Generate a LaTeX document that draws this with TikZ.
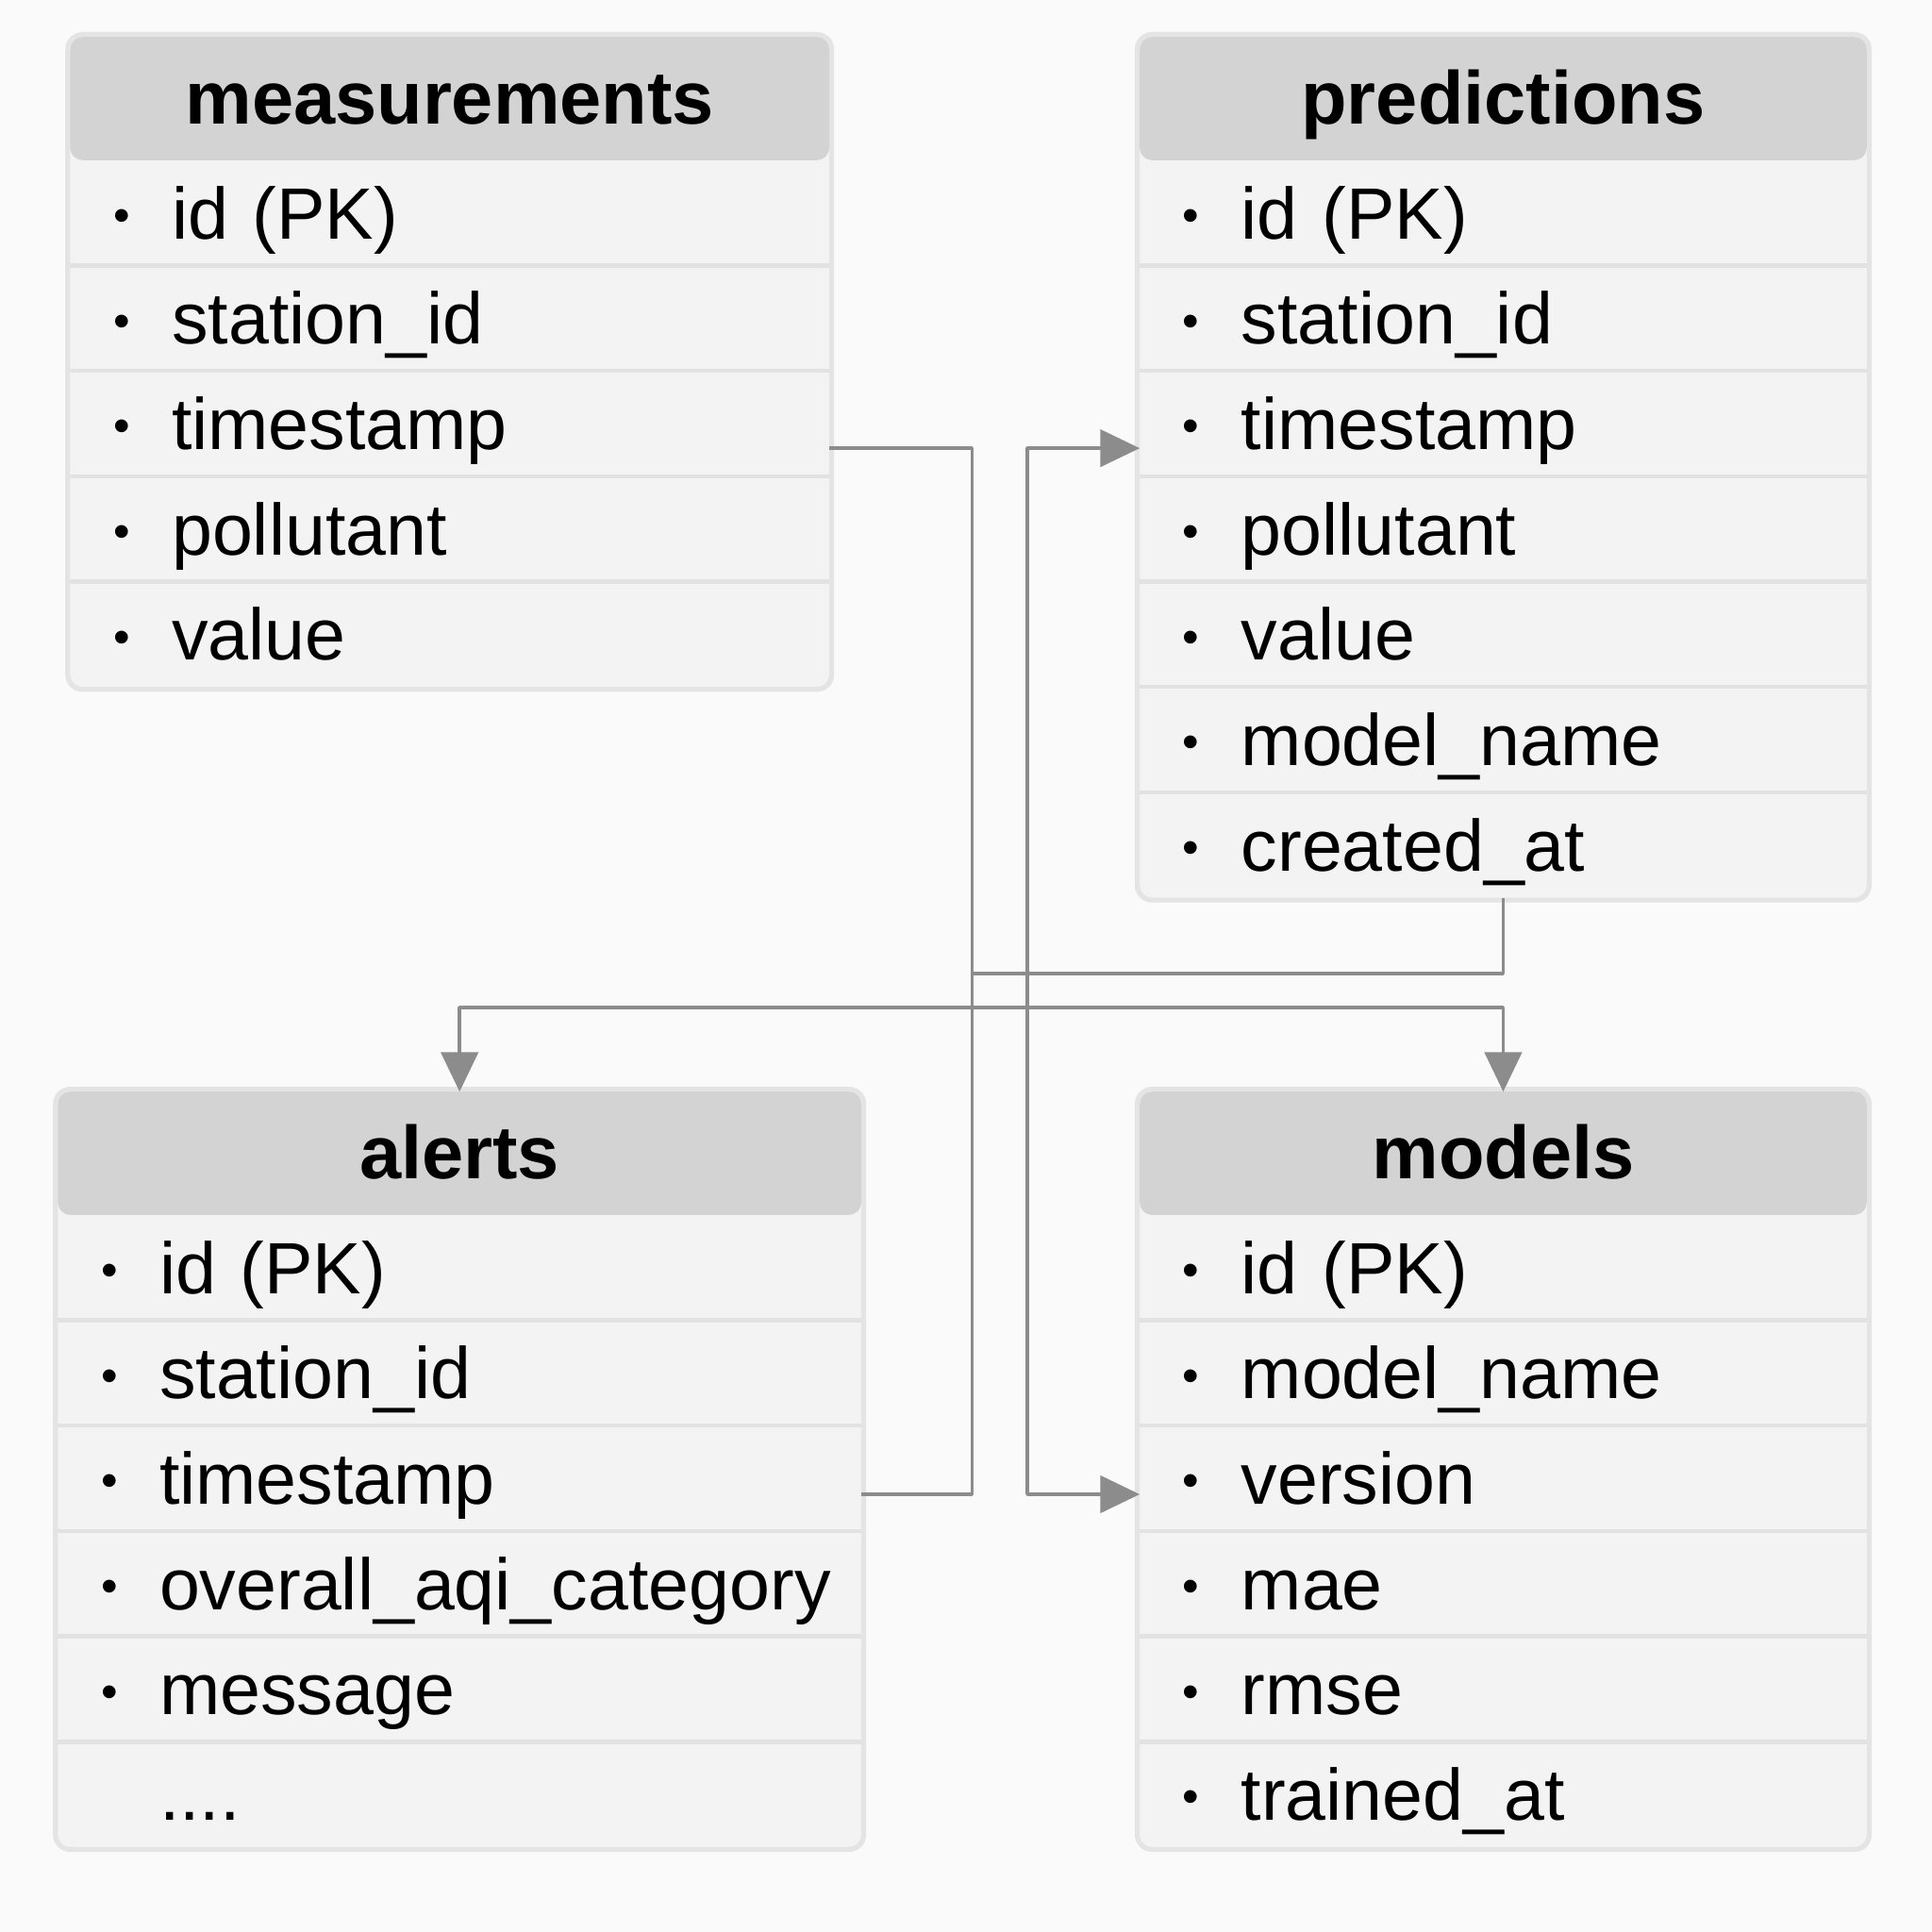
\documentclass[tikz,border=0pt]{standalone}
\usepackage{fontspec}
\setmainfont{Liberation Sans}
\usetikzlibrary{positioning,fit,backgrounds,arrows.meta}
\definecolor{bggray}{HTML}{FAFAFA}
\definecolor{rowgray}{HTML}{F3F3F3}
\definecolor{headgray}{HTML}{D3D3D3}
\definecolor{framegray}{HTML}{E4E4E4}
\definecolor{sepgray}{HTML}{E2E2E2}
\definecolor{linkgray}{HTML}{8C8C8C}
\newcommand{\dotmark}{\hspace{0.5mm}\raisebox{0.1em}{\scalebox{0.65}{\textbullet}}}
\newcommand{\fld}[1]{\mbox{\dotmark\hspace{3.4mm}#1}}
\begin{document}
\begin{tikzpicture}[x=0.1mm,y=-0.1mm,>={Triangle[length=3.2mm,width=3mm]},line join=bevel,
  every node/.style={outer sep=0pt},
  header/.style={fill=headgray,rounded corners=1mm,minimum height=10mm,inner sep=0pt,
    text height=5.2mm,text depth=1.0mm,font=\bfseries\fontsize{17.3}{20}\selectfont},
  field/.style={text width=#1,align=left,minimum height=8.55mm,inner xsep=3mm,inner ysep=0pt,
    text height=5mm,text depth=0.8mm,font=\fontsize{16.8}{20}\selectfont},
  frame/.style={draw=framegray,line width=0.4mm,fill=rowgray,rounded corners=1.2mm,inner sep=0.2mm},
  sep/.style={draw=sepgray,line width=0.35mm},
  link/.style={draw=linkgray,line width=0.3mm},
  arrow/.style={link,->}]
\begin{scope}[on background layer]
  \fill[bggray] (0,0) rectangle (1568,1568);
\end{scope}
%%
\node (meas) at (365,80) [header,minimum width=61.6mm] {measurements};
  \node (meas-1) [field=55.6mm,below=0pt of meas] {\fld{id (PK)}};
  \node (meas-2) [field=55.6mm,below=0pt of meas-1] {\fld{station\_id}};
  \node (meas-3) [field=55.6mm,below=0pt of meas-2] {\fld{timestamp}};
  \node (meas-4) [field=55.6mm,below=0pt of meas-3] {\fld{pollutant}};
  \node (meas-5) [field=55.6mm,below=0pt of meas-4] {\fld{value}};
%%
\node (pred) at (1220,80) [header,minimum width=59mm] {predictions};
  \node (pred-1) [field=53mm,below=0pt of pred] {\fld{id (PK)}};
  \node (pred-2) [field=53mm,below=0pt of pred-1] {\fld{station\_id}};
  \node (pred-3) [field=53mm,below=0pt of pred-2] {\fld{timestamp}};
  \node (pred-4) [field=53mm,below=0pt of pred-3] {\fld{pollutant}};
  \node (pred-5) [field=53mm,below=0pt of pred-4] {\fld{value}};
  \node (pred-6) [field=53mm,below=0pt of pred-5] {\fld{model\_name}};
  \node (pred-7) [field=53mm,below=0pt of pred-6] {\fld{created\_at}};
%%
\node (alerts) at (373,936) [header,minimum width=65.2mm] {alerts};
  \node (alerts-1) [field=59.2mm,below=0pt of alerts] {\fld{id (PK)}};
  \node (alerts-2) [field=59.2mm,below=0pt of alerts-1] {\fld{station\_id}};
  \node (alerts-3) [field=59.2mm,below=0pt of alerts-2] {\fld{timestamp}};
  \node (alerts-4) [field=59.2mm,below=0pt of alerts-3] {\fld{overall\_aqi\_category}};
  \node (alerts-5) [field=59.2mm,below=0pt of alerts-4] {\fld{message}};
  \node (alerts-6) [field=59.2mm,below=0pt of alerts-5] {\phantom{\dotmark}\hspace{3.4mm}....};
%%
\node (models) at (1220,936) [header,minimum width=59mm] {models};
  \node (models-1) [field=53mm,below=0pt of models] {\fld{id (PK)}};
  \node (models-2) [field=53mm,below=0pt of models-1] {\fld{model\_name}};
  \node (models-3) [field=53mm,below=0pt of models-2] {\fld{version}};
  \node (models-4) [field=53mm,below=0pt of models-3] {\fld{mae}};
  \node (models-5) [field=53mm,below=0pt of models-4] {\fld{rmse}};
  \node (models-6) [field=53mm,below=0pt of models-5] {\fld{trained\_at}};
%%
\begin{scope}[on background layer]
  \node [frame,fit=(meas)(meas-5)] {};
  \node [frame,fit=(pred)(pred-7)] {};
  \node [frame,fit=(alerts)(alerts-6)] {};
  \node [frame,fit=(models)(models-6)] {};
\end{scope}
\foreach \i in {1,...,4} \draw[sep] (meas-\i.south west) -- (meas-\i.south east);
\foreach \i in {1,...,6} \draw[sep] (pred-\i.south west) -- (pred-\i.south east);
\foreach \i in {1,...,5} \draw[sep] (alerts-\i.south west) -- (alerts-\i.south east);
\foreach \i in {1,...,5} \draw[sep] (models-\i.south west) -- (models-\i.south east);
%%
\coordinate (busa) at (789,790);
\coordinate (busb) at (834,790);
\coordinate (busc) at (834,818);
  \draw [link] ([yshift=-2mm]meas-3.east) -| (busa) |- ([yshift=-1.3mm]alerts-3.east);
  \draw [link] (pred-7.south) |- (busa);
  \draw [arrow] (busb) |- ([yshift=-2mm]pred-3.west);
  \draw [arrow] (busb) |- ([yshift=-1.3mm]models-3.west);
  \draw [arrow] (busc) -| (alerts.north);
  \draw [arrow] (busc) -| (models.north);
%
\end{tikzpicture}
\end{document}
